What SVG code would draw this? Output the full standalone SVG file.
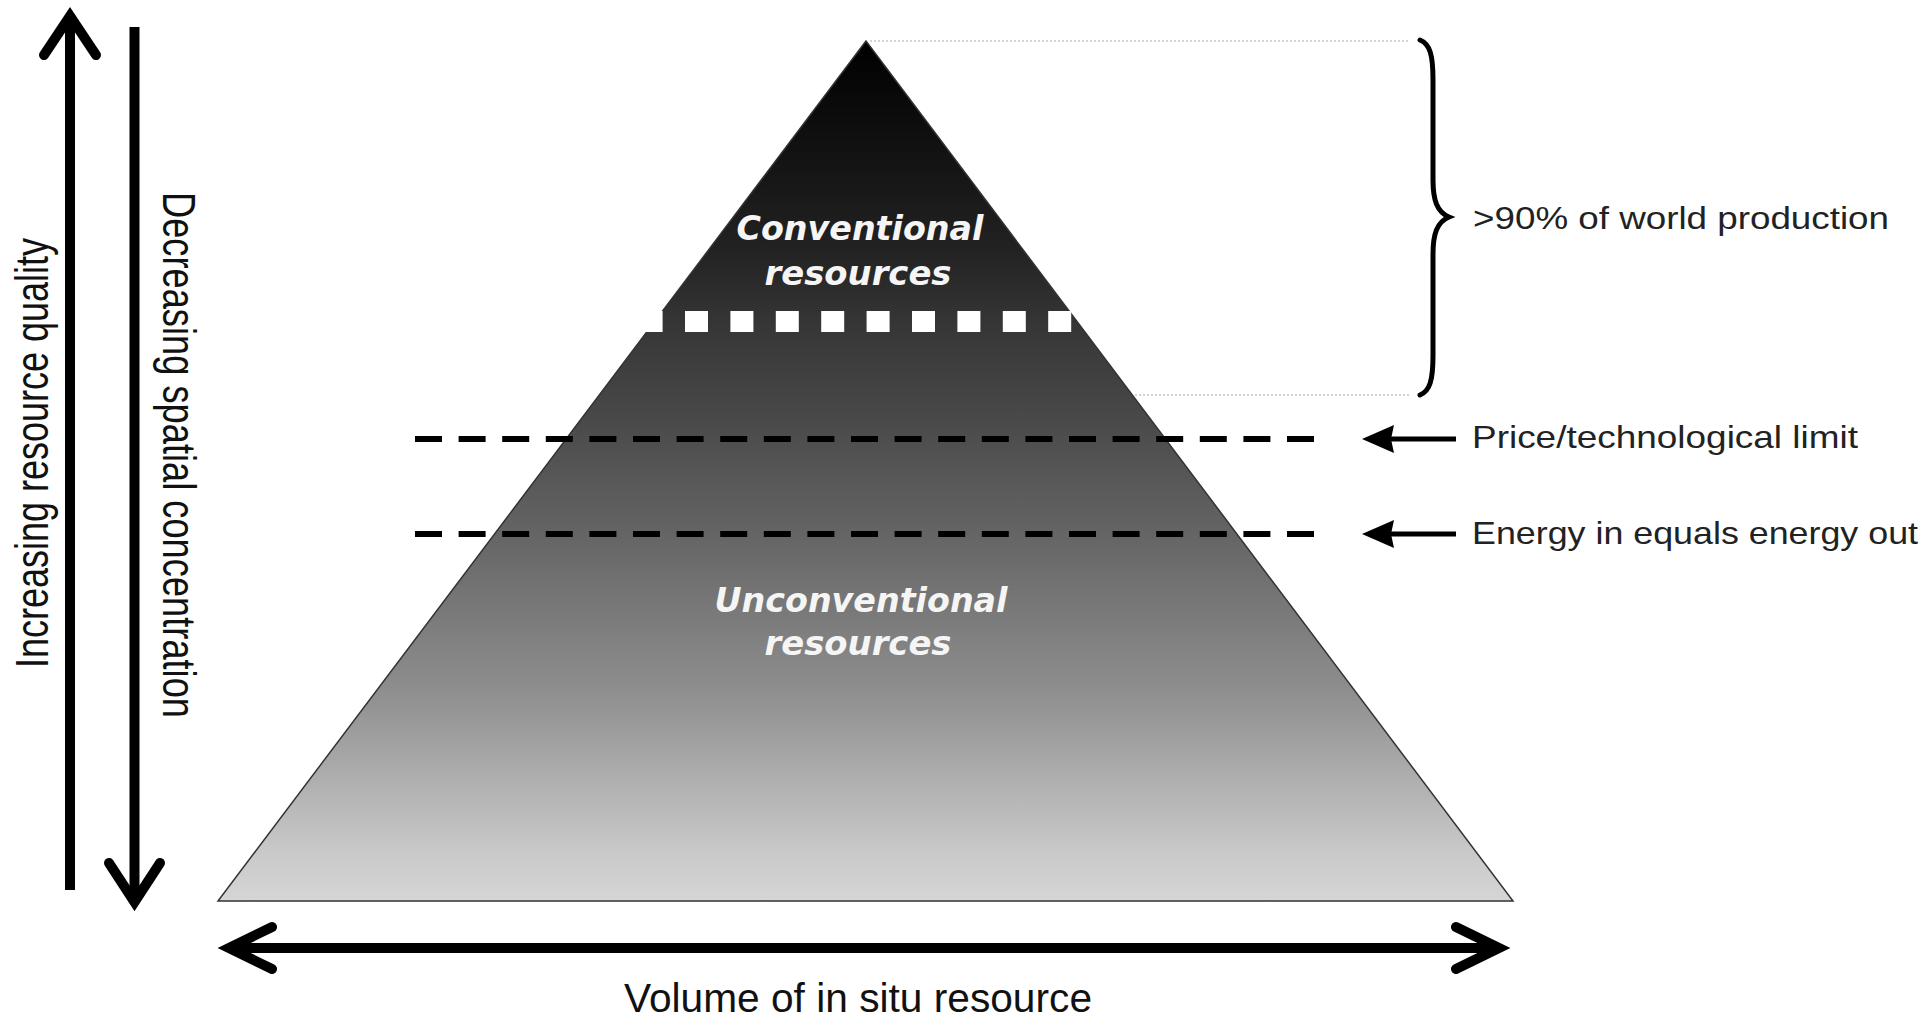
<svg xmlns="http://www.w3.org/2000/svg" width="1931" height="1017" viewBox="0 0 1931 1017">
  <defs>
    <linearGradient id="pyramidFill" gradientUnits="userSpaceOnUse" x1="0" y1="41" x2="0" y2="901">
      <stop offset="0" stop-color="#000000"/>
      <stop offset="0.243" stop-color="#222222"/>
      <stop offset="0.33" stop-color="#363636"/>
      <stop offset="0.429" stop-color="#474747"/>
      <stop offset="0.58" stop-color="#666666"/>
      <stop offset="0.755" stop-color="#8e8e8e"/>
      <stop offset="0.94" stop-color="#c8c8c8"/>
      <stop offset="1" stop-color="#d6d6d6"/>
    </linearGradient>
    <!-- filled pointer head, tip at the origin pointing left -->
    <path id="pointerHead" d="M0,0 L32,-14 L29,0 L32,14 Z" fill="#000"/>
  </defs>
  <style>
    .axis { fill: none; stroke: #000; stroke-width: 10; stroke-linecap: butt; }
    .chevron { fill: none; stroke: #000; stroke-width: 10; stroke-linecap: round; stroke-linejoin: miter; stroke-miterlimit: 10; }
    .axis-label { font-family: "Liberation Sans", Arial, sans-serif; font-size: 46px; fill: #111; }
    .side-label { font-family: "Liberation Sans", Arial, sans-serif; font-size: 32px; fill: #222; }
    .zone-label { font-family: "DejaVu Sans", Verdana, sans-serif; font-size: 33px; font-weight: bold; font-style: italic; fill: #f5f5f5; text-anchor: middle; }
    .limit { fill: none; stroke: #000; stroke-width: 6; stroke-dasharray: 27 16.6; }
    .guide { fill: none; stroke: #a8a8a8; stroke-width: 1; stroke-dasharray: 2 2; }
    .pointer { fill: none; stroke: #000; stroke-width: 5; }
  </style>

  <rect width="1931" height="1017" fill="#ffffff"/>

  <!-- resource pyramid -->
  <g id="pyramid">
    <polygon points="866,41 218,901 1513,901" fill="url(#pyramidFill)" stroke="#333" stroke-width="1.5" stroke-linejoin="miter"/>
    <!-- boundary between conventional and unconventional resources -->
    <line x1="639.6" y1="321.5" x2="1075" y2="321.5" stroke="#ffffff" stroke-width="21" stroke-dasharray="23 22.4"/>
  </g>

  <g id="conventional">
    <text class="zone-label" x="860" y="240" textLength="247" lengthAdjust="spacingAndGlyphs">Conventional</text>
    <text class="zone-label" x="858" y="285" textLength="187" lengthAdjust="spacingAndGlyphs">resources</text>
  </g>

  <g id="unconventional">
    <text class="zone-label" x="861" y="612" textLength="293" lengthAdjust="spacingAndGlyphs">Unconventional</text>
    <text class="zone-label" x="858" y="655" textLength="187" lengthAdjust="spacingAndGlyphs">resources</text>
  </g>

  <!-- limit lines across the pyramid -->
  <g id="price-limit">
    <line class="limit" x1="415" y1="439" x2="1314" y2="439"/>
    <text class="side-label" x="1472" y="448" textLength="386" lengthAdjust="spacingAndGlyphs">Price/technological  limit</text>
  </g>

  <g id="energy-limit">
    <line class="limit" x1="415" y1="534" x2="1314" y2="534"/>
    <text class="side-label" x="1472" y="544" textLength="446" lengthAdjust="spacingAndGlyphs">Energy  in equals energy  out</text>
  </g>

  <!-- share of world production -->
  <g id="world-production">
    <path d="M1420,40 C1430,44 1433,55 1433,80 L1433,180 C1433,200 1437,212 1449,217 C1437,222 1433,234 1433,254 L1433,355 C1433,380 1430,391 1420,395" fill="none" stroke="#000" stroke-width="5" stroke-linecap="round"/>
    <text class="side-label" x="1473" y="229" textLength="416" lengthAdjust="spacingAndGlyphs">&gt;90% of world production</text>
  </g>

  <!-- axis labels -->
  <g id="quality-axis">
    <line class="axis" x1="70" y1="890" x2="70" y2="20"/>
    <path class="chevron" d="M44,55 L70,16 L96,55"/>
    <text class="axis-label" transform="translate(48,668) rotate(-90)" textLength="430" lengthAdjust="spacingAndGlyphs">Increasing resource quality</text>
  </g>

  <g id="concentration-axis">
    <line class="axis" x1="134.5" y1="27" x2="134.5" y2="898"/>
    <path class="chevron" d="M109,863 L134.5,902 L160,863"/>
    <text class="axis-label" transform="translate(163,192) rotate(90)" textLength="526" lengthAdjust="spacingAndGlyphs">Decreasing spatial concentration</text>
  </g>

  <g id="volume-axis">
    <path class="chevron" d="M272,927 L229,948 L272,969 M229,948 L1499,948 M1456,927 L1499,948 L1456,969"/>
    <text class="axis-label" x="858" y="1012" text-anchor="middle" textLength="468" lengthAdjust="spacingAndGlyphs" style="font-size:40px">Volume of in situ resource</text>
  </g>

  <!-- connectors: guide lines and pointer arrows -->
  <g id="connectors">
    <line class="guide" x1="870" y1="41" x2="1410" y2="41"/>
    <line class="guide" x1="1135" y1="395" x2="1410" y2="395"/>
    <line class="pointer" x1="1456" y1="439" x2="1388" y2="439"/>
    <use href="#pointerHead" x="1362" y="439"/>
    <line class="pointer" x1="1456" y1="534" x2="1388" y2="534"/>
    <use href="#pointerHead" x="1362" y="534"/>
  </g>
</svg>
